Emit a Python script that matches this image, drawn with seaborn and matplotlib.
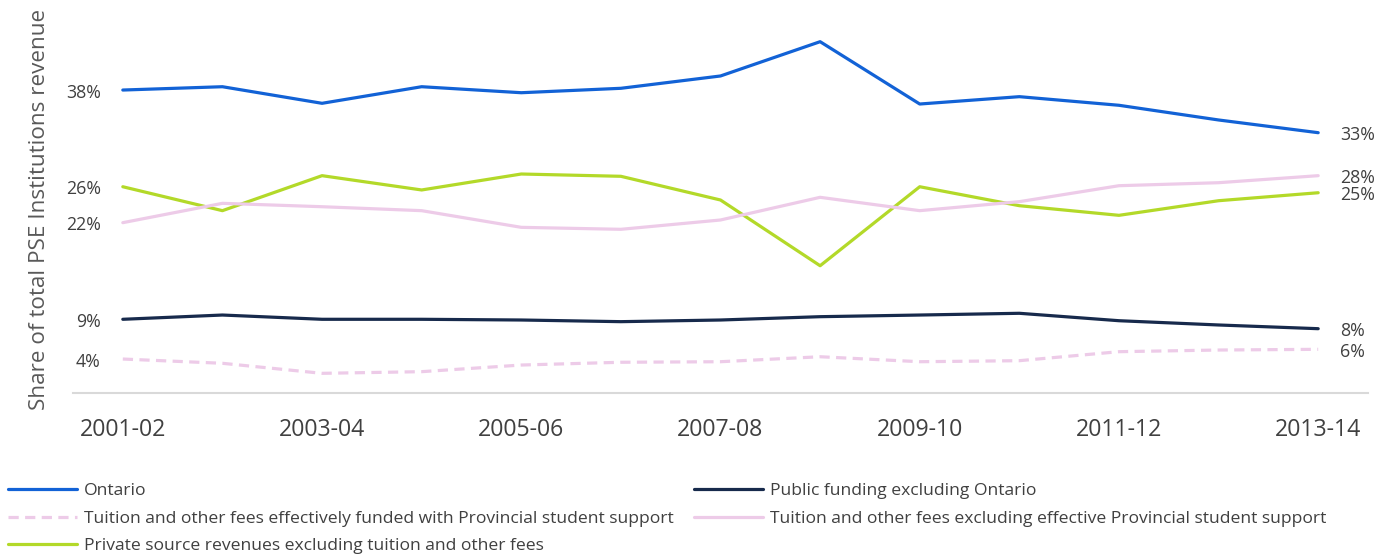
import numpy as np
import pandas as pd
import matplotlib
matplotlib.use("Agg")
import matplotlib.pyplot as plt
import seaborn as sns

years = ["2001-02", "2002-03", "2003-04", "2004-05", "2005-06", "2006-07", "2007-08",
         "2008-09", "2009-10", "2010-11", "2011-12", "2012-13", "2013-14"]

ontario = [38.35, 38.77, 36.67, 38.77, 38.01, 38.57, 40.13, 44.47, 36.58, 37.51, 36.42, 34.56, 32.95]
public_ex_ontario = [9.33, 9.87, 9.33, 9.33, 9.24, 9.03, 9.24, 9.66, 9.87, 10.09, 9.15, 8.61, 8.14]
tuition_funded = [4.30, 3.76, 2.49, 2.70, 3.54, 3.89, 3.96, 4.59, 3.96, 4.09, 5.23, 5.44, 5.53]
tuition_excl = [21.56, 24.01, 23.58, 23.08, 20.97, 20.72, 21.90, 24.77, 23.08, 24.22, 26.24, 26.62, 27.51]
private_other = [26.11, 23.08, 27.51, 25.70, 27.72, 27.43, 24.43, 16.11, 26.11, 23.71, 22.49, 24.34, 25.35]

series_names = [
    "Ontario",
    "Tuition and other fees effectively funded with Provincial student support",
    "Private source revenues excluding tuition and other fees",
    "Public funding excluding Ontario",
    "Tuition and other fees excluding effective Provincial student support",
]
series_values = [ontario, tuition_funded, private_other, public_ex_ontario, tuition_excl]
series_colors = ["#1262D6", "#EDCBE8", "#B3D929", "#172A4C", "#EDCBE8"]
series_dashed = [False, True, False, False, False]

sns.set_theme(style="white")
plt.rcParams["font.family"] = ["Open Sans", "DejaVu Sans"]
fs_tick, fs_lab, fs_ylab, fs_leg = 16.7, 12.8, 16.2, 12.6

fig = plt.figure(figsize=(13.92, 5.57), dpi=100)
W, H = 1392, 557
ax_left, ax_right = 73, 1368
ax_bottom_px, ax_top_px = 393, 14
ax = fig.add_axes([ax_left / W, 1 - ax_bottom_px / H,
                   (ax_right - ax_left) / W, (ax_bottom_px - ax_top_px) / H])

xpos = np.arange(len(years))
text_color = "#404040"

for name, vals, col, dashed in zip(series_names, series_values, series_colors, series_dashed):
    df = pd.DataFrame({"x": xpos, "y": vals})
    sns.lineplot(data=df, x="x", y="y", ax=ax, color=col, linewidth=2.3,
                 linestyle=(0, (3.2, 2.0)) if dashed else "-", label=name,
                 legend=False)
    ax.annotate(f"{round(vals[0])}%", xy=(xpos[0], vals[0]), xytext=(-22, -2.5),
                textcoords="offset pixels", ha="right", va="center",
                fontsize=fs_lab, color=text_color)
    ax.annotate(f"{round(vals[-1])}%", xy=(xpos[-1], vals[-1]), xytext=(22, -2.5),
                textcoords="offset pixels", ha="left", va="center",
                fontsize=fs_lab, color=text_color)

ax.set_xlim(-0.5, len(years) - 0.5)
ax.set_ylim(0, (ax_bottom_px - ax_top_px) / 7.9)
ax.set_xticks(xpos[::2])
ax.set_xticklabels(years[::2], fontsize=fs_tick, color=text_color)
ax.tick_params(axis="x", length=0, pad=18)
ax.set_yticks([])
ax.set_xlabel("")
ax.set_ylabel("Share of total PSE Institutions revenue", fontsize=fs_ylab, color="#595959")
ax.yaxis.set_label_coords(-(73 - 50) / (ax_right - ax_left), (393 - 209) / (393 - 14))

for s in ["top", "right", "left"]:
    ax.spines[s].set_visible(False)
ax.spines["bottom"].set_color("#D9D9D9")
ax.spines["bottom"].set_linewidth(1.5)

fs_px = fs_leg * 100 / 72
handles, labels = ax.get_legend_handles_labels()
leg = fig.legend(handles, labels, ncol=2, loc="upper left",
                 bbox_to_anchor=(8 / W, 1 - 483 / H), frameon=False,
                 fontsize=fs_leg, handlelength=69 / fs_px,
                 handletextpad=7 / fs_px,
                 columnspacing=20 / fs_px, labelspacing=0.65,
                 borderpad=0, borderaxespad=0)
for t in leg.get_texts():
    t.set_color(text_color)

fig.savefig("out.png", dpi=100)
